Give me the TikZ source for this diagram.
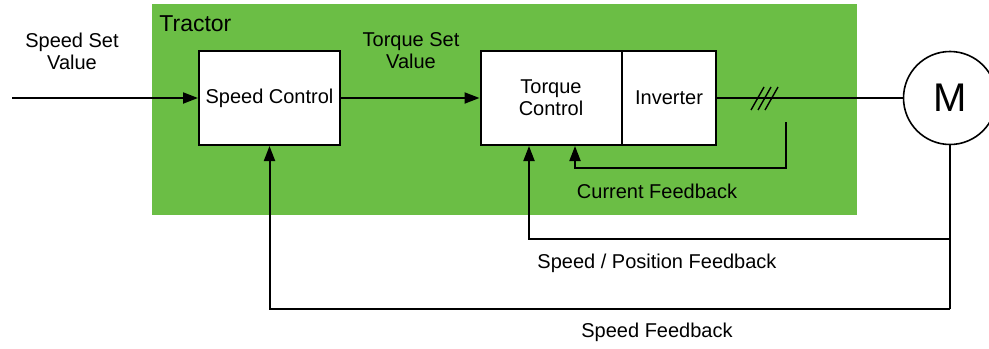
\documentclass[tikz,border=0pt]{standalone}
\usepackage{fontspec}
\setmainfont{Liberation Sans}
\usetikzlibrary{arrows.meta}
\definecolor{tractorgreen}{RGB}{107,190,69}

\begin{document}
\begin{tikzpicture}[x=0.5pt,y=-0.5pt,
    blk/.style={draw,fill=white,line width=1pt,minimum height=47pt,inner sep=0pt,
        align=center,font=\fontsize{10}{11}\selectfont},
    sig/.style={line width=1pt},
    arr/.style={sig,-{Triangle[length=7.5pt,width=5.5pt]}},
    lbl/.style={align=center,font=\fontsize{10}{11}\selectfont}]
    \useasboundingbox (0,0) rectangle (989,348);
    % tractor area
    \fill[tractorgreen] (152,4) rectangle (857,215);
    \node[anchor=west,inner sep=0pt,font=\fontsize{11.5}{13}\selectfont] (tractor) at (159,24) {Tractor};

    % blocks
    \node[blk,minimum width=70.5pt] (speed) at (269.5,98) {Speed Control};
    \node[blk,minimum width=70.5pt] (torque) at (551,98) {Torque\\Control};
    \node[blk,minimum width=47pt] (inverter) at (669,98) {Inverter};
    \node[draw,circle,line width=0.8pt,minimum size=46.5pt,inner sep=0pt,
        font=\fontsize{20}{24}\selectfont] (motor) at (950,98) {M};

    % forward path
    \coordinate (in) at (12,98);
    \draw[arr] (in) -- (speed);
    \draw[arr] (speed) -- (torque);
    \draw[sig] (inverter) -- (motor);
    \foreach \k in {0,1,2}
        \draw[line width=0.7pt] (751+7*\k,110) -- (764+7*\k,87);

    % feedback loops
    \coordinate (cf) at (786,122);
    \draw[arr] (cf) -- ++(0,46) -| ([xshift=12pt]torque.south);
    \coordinate (spf) at (950,239);
    \coordinate (sfb) at (950,309);
    \draw[sig] (motor) -- (sfb);
    \draw[arr] (spf) -| ([xshift=-11pt]torque.south);
    \draw[arr] (sfb) -| (speed);

    % signal labels
    \node[lbl] (sset) at (72,51) {Speed Set\\Value};
    \node[lbl] (tset) at (411,51) {Torque Set\\Value};
    \node[lbl] (curlbl) at (657,191) {Current Feedback};
    \node[lbl] (poslbl) at (657,263) {Speed / Position Feedback};
    \node[lbl] (spdlbl) at (657,332) {Speed Feedback};
\end{tikzpicture}
\end{document}
